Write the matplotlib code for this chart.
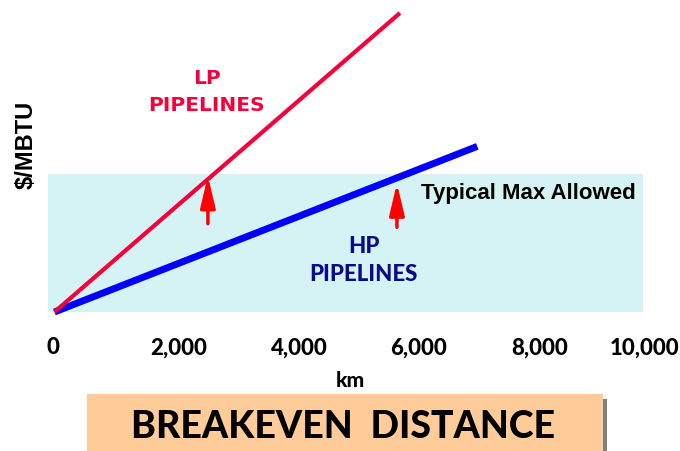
import matplotlib
matplotlib.use("Agg")
import matplotlib.pyplot as plt
from matplotlib.patches import Rectangle
from matplotlib.transforms import ScaledTranslation

# --- Données ---
lp_km = [0, 5720]
lp_cost = [0, 3.25]
hp_km = [0, 7000]
hp_cost = [0, 1.80]
max_allowed = 1.5
zone_km = [-110, 9740]
breakeven_lp = 2540
breakeven_hp = 5670
arrow_base = [0.96, 0.92]
arrow_tip = [1.48, 1.40]
xticks = [0, 2000, 4000, 6000, 8000, 10000]
xtick_labels = ["0", "2,000", "4,000", "6,000", "8,000", "10,000"]

ROUGE = "#F5003A"
BLEU = "#0000FF"
MARINE = "#0A0A8C"

fig = plt.figure(figsize=(6.8, 4.52), dpi=100)
ax = fig.add_axes([0.0579, 0.2872, 0.9149, 0.7022])
ax.set_xlim(-250, 10050)
ax.set_ylim(-0.1, 3.35)
for s in ax.spines.values():
    s.set_visible(False)

# zone "max autorisé"
ax.add_patch(Rectangle((zone_km[0], 0), zone_km[1] - zone_km[0], max_allowed,
                       facecolor="#D5F2F4", edgecolor="none", zorder=0))

ax.plot(hp_km, hp_cost, color=BLEU, linewidth=5, solid_capstyle="butt",
        zorder=3, clip_on=False)
ax.plot(lp_km, lp_cost, color=ROUGE, linewidth=3, solid_capstyle="butt",
        zorder=4, clip_on=False)

# flèches des distances d'équilibre
for xk, y0, y1 in zip([breakeven_lp, breakeven_hp], arrow_base, arrow_tip):
    ax.annotate("", xy=(xk, y1), xytext=(xk, y0),
                arrowprops=dict(arrowstyle="-|>,head_length=1.9,head_width=0.45",
                                color="#FF0000", lw=2.5, shrinkA=0, shrinkB=0),
                zorder=5)

ax.text(2520, 2.40, "LP\nPIPELINES", color=ROUGE, fontsize=14.5,
        fontweight="bold", family="DejaVu Sans", ha="center", va="center",
        linespacing=1.55)
ax.text(5120, 0.57, "HP\nPIPELINES", color=MARINE, fontsize=16,
        fontweight="black", family="Lato", ha="center", va="center",
        linespacing=1.45)
ax.text(6070, 1.30, "Typical Max Allowed", color="black", fontsize=16,
        fontweight="bold", family="Liberation Sans", ha="left", va="center")

# axe des x
ax.set_xticks(xticks)
ax.set_xticklabels(xtick_labels, fontsize=16, fontweight="black", family="Lato")
ax.tick_params(axis="x", length=0, pad=11)
decal = [-2, 3, 3, 2, 2, -14]
for lab, dx in zip(ax.get_xticklabels(), decal):
    lab.set_transform(lab.get_transform() + ScaledTranslation(dx / 100, 0, fig.dpi_scale_trans))
ax.set_xlabel("km", fontsize=15, fontweight="black", family="Lato", labelpad=9)

# axe des y : un seul petit trait blanc
ax.set_yticks([1.0])
ax.set_yticklabels([""])
ax.tick_params(axis="y", length=5, color="white", width=1.5)
ax.set_ylabel("$/MBTU", fontsize=17, fontweight="bold", family="Liberation Sans")
ax.yaxis.set_label_coords(-0.0035, 0.56)

# bandeau du titre
fig.patches.append(Rectangle((603 / 680, 0), 4 / 680, (452 - 400) / 452,
                             transform=fig.transFigure, facecolor="#808080",
                             edgecolor="none", zorder=0))
fig.patches.append(Rectangle((87 / 680, 0), (603 - 87) / 680, (452 - 395) / 452,
                             transform=fig.transFigure, facecolor="#FFCC99",
                             edgecolor="none", zorder=1))
fig.text(343 / 680, (452 - 427) / 452, "BREAKEVEN  DISTANCE", fontsize=27,
         fontweight="black", family="Lato", ha="center", va="center", zorder=2)

plt.savefig("out.png", dpi=100)
